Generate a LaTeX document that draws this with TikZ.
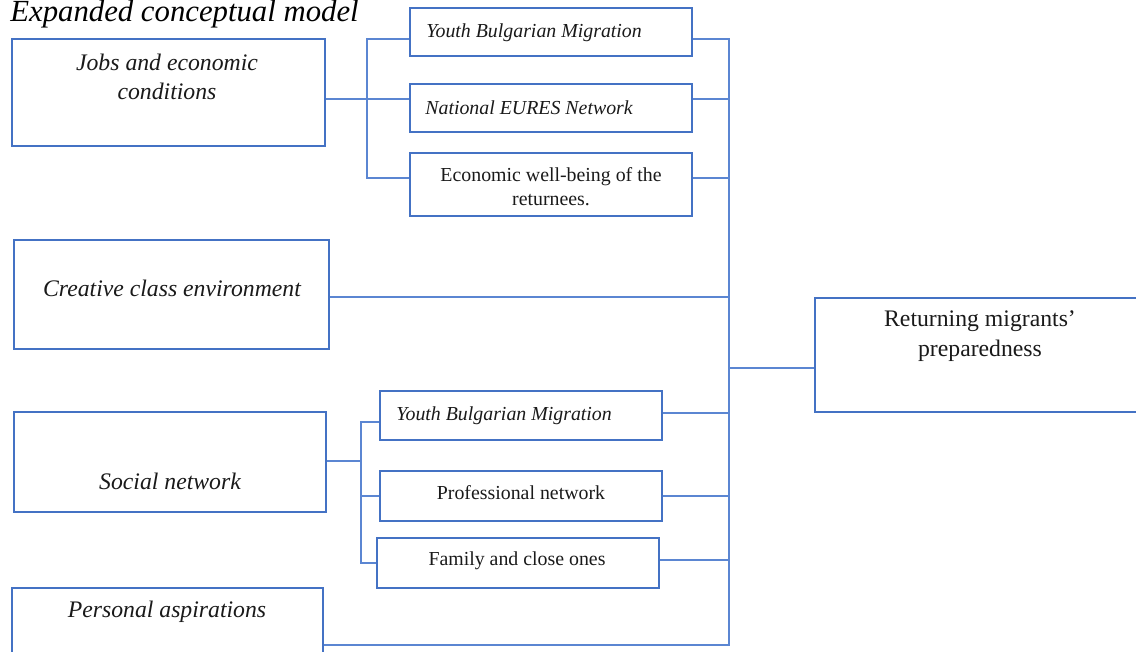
\documentclass[tikz,border=0pt]{standalone}
\usepackage{fontspec}
\setmainfont{Liberation Serif}
\usetikzlibrary{positioning, fit}
\definecolor{boxblue}{HTML}{4472C4}
\definecolor{linkblue}{HTML}{5B86D2}
\definecolor{inktext}{HTML}{1A1A1A}
\tikzset{
  mainbox/.style  = {draw=boxblue, line width=1.1pt, inner sep=0pt},
  subbox/.style   = {draw=boxblue, line width=1.1pt, inner sep=0pt},
  bigtxt/.style   = {font=\fontsize{13.5}{16.5}\selectfont\itshape, text=inktext,
                     align=center, inner sep=0pt},
  subtxt/.style   = {font=\fontsize{11.3}{13.6}\selectfont, text=inktext,
                     align=center, inner sep=0pt},
  subit/.style    = {font=\fontsize{11.3}{13.6}\selectfont\itshape, text=inktext,
                     anchor=west, inner sep=0pt},
  outtxt/.style   = {font=\fontsize{13.5}{17}\selectfont, text=inktext,
                     align=center, inner sep=0pt},
  titletxt/.style = {font=\fontsize{17.5}{21}\selectfont\itshape, text=black,
                     inner sep=0pt},
  link/.style     = {draw=linkblue, line width=0.6pt},
}

\begin{document}
\begin{tikzpicture}[x=0.02cm, y=-0.02cm]
    \clip (0,0) rectangle (1136,652);
    \fill[white] (0,0) rectangle (1136,652);

    % Title
    \node[titletxt, anchor=base west] (title) at (10,22) {Expanded conceptual model};

    % Left column : main factors
    \node[mainbox, fit={(12,39) (325,146)}]  (jobs)     {};
    \node[mainbox, fit={(14,240) (329,349)}] (creative) {};
    \node[mainbox, fit={(14,412) (326,512)}] (social)   {};
    \node[mainbox, fit={(12,588) (323,670)}] (personal) {};

    \node[bigtxt] (jobsT)     at (167,77)  {Jobs and economic\\conditions};
    \node[bigtxt] (creativeT) at (172,288) {Creative class environment};
    \node[bigtxt] (socialT)   at (170,481) {Social network};
    \node[bigtxt] (personalT) at (167,612) {Personal aspirations};

    % Middle column : sub factors
    \node[subbox, fit={(410,8) (692,56)}]    (ybmA)   {};
    \node[subbox, fit={(410,84) (692,132)}]  (eures)  {};
    \node[subbox, fit={(410,153) (692,216)}] (econ)   {};
    \node[subbox, fit={(380,391) (662,440)}] (ybmB)   {};
    \node[subbox, fit={(380,471) (662,521)}] (prof)   {};
    \node[subbox, fit={(377,538) (659,588)}] (family) {};

    \node[subit]  (ybmAT)   at (426,33)  {Youth Bulgarian Migration};
    \node[subit]  (euresT)  at (425,108) {National EURES Network};
    \node[subtxt] (econT)   at (551,187) {Economic well-being of the\\returnees.};
    \node[subit]  (ybmBT)   at (396,416) {Youth Bulgarian Migration};
    \node[subtxt] (profT)   at (521,493) {Professional network};
    \node[subtxt] (familyT) at (517,561) {Family and close ones};

    % Outcome
    \node[mainbox, fit={(815,298) (1150,412)}] (ready) {};
    \node[outtxt] (readyT) at (980,336) {Returning migrants’\\preparedness};

    % Fork points and bus
    \coordinate (forkA)    at (367,99);
    \coordinate (forkAtop) at (367,39);
    \coordinate (forkAbot) at (367,178);
    \coordinate (forkB)    at (361,461);
    \coordinate (forkBtop) at (361,422);
    \coordinate (forkBbot) at (361,563);
    \coordinate (busTop)   at (729,39);
    \coordinate (busBot)   at (729,645);
    \coordinate (busOut)   at (729,368);

    \draw[link] (jobs.east |- forkA) -- (forkA) -- (eures.west |- forkA);
    \draw[link] (ybmA.west |- forkAtop) -- (forkAtop) -- (forkAbot) -- (econ.west |- forkAbot);
    \draw[link] (social.east |- forkB) -- (forkB);
    \draw[link] (ybmB.west |- forkBtop) -- (forkBtop) -- (forkBbot) -- (family.west |- forkBbot);
    \draw[link] (forkB |- prof.west) -- (prof.west);

    \draw[link] (ybmA.east |- busTop) -- (busTop) -- (busBot) -- (personal.east |- busBot);
    \draw[link] (eures.east |- forkA) -- (busTop |- forkA);
    \draw[link] (econ.east |- forkAbot) -- (busTop |- forkAbot);
    \draw[link] (creative.east |- 0,297) -- (busTop |- 0,297);
    \draw[link] (ybmB.east |- 0,413) -- (busTop |- 0,413);
    \draw[link] (prof.east) -- (busTop |- prof.east);
    \draw[link] (family.east |- 0,560) -- (busTop |- 0,560);
    \draw[link] (busOut) -- (ready.west |- busOut);
  \end{tikzpicture}
\end{document}
